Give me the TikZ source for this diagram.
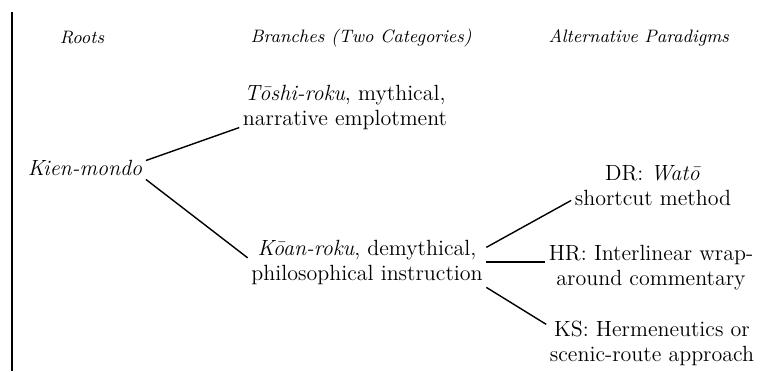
\documentclass[tikz,border=0pt]{standalone}
\usepackage{fontspec}
\usetikzlibrary{positioning}
\tikzset{
  every picture/.style={line width=0.7pt},
  head/.style={font=\fontsize{9}{11}\selectfont\itshape, inner sep=1.5pt},
  item/.style={font=\fontsize{11}{12.5}\selectfont, align=center, inner sep=1.5pt},
  link/.style={draw=black, line width=0.7pt},
}
\begin{document}
\begin{tikzpicture}[x=0.5pt, y=-0.5pt]
  \useasboundingbox (0,0) rectangle (763,371);
  % left rule
  \draw[line width=1pt] (12,12) -- (12,371);
  % column heads
  \node[head] (hroots) at (82,38) {Roots};
  \node[head, anchor=west] (hbranch) at (247,38) {Branches (Two Categories)};
  \node[head, anchor=west] (halt) at (545,38) {Alternative Paradigms};
  % root and the two branches
  \node[item] (kien) at (85,168) {\textit{Kien-mondo}};
  \node[item] (toshi) at (345,107) {\textit{Tōshi-roku}, mythical,\\narrative emplotment};
  \node[item] (koan) at (367,262) {\textit{Kōan-roku}, demythical,\\philosophical instruction};
  % alternative paradigms
  \node[item] (dr) at (653,186) {DR: \textit{Watō}\\shortcut method};
  \node[item] (hr) at (651,268) {HR: Interlinear wrap-\\around commentary};
  \node[item] (ks) at (652,343) {KS: Hermeneutics or\\scenic-route approach};
  \draw[link] (kien.7) -- (toshi.191);
  \draw[link] (kien.south east) -- (koan.178);
  \draw[link] (koan.7) -- (dr.190);
  \draw[link] (koan.east) -- (koan.east -| hr.west);
  \draw[link] (koan.-12) -- (ks.170);
\end{tikzpicture}
\end{document}
